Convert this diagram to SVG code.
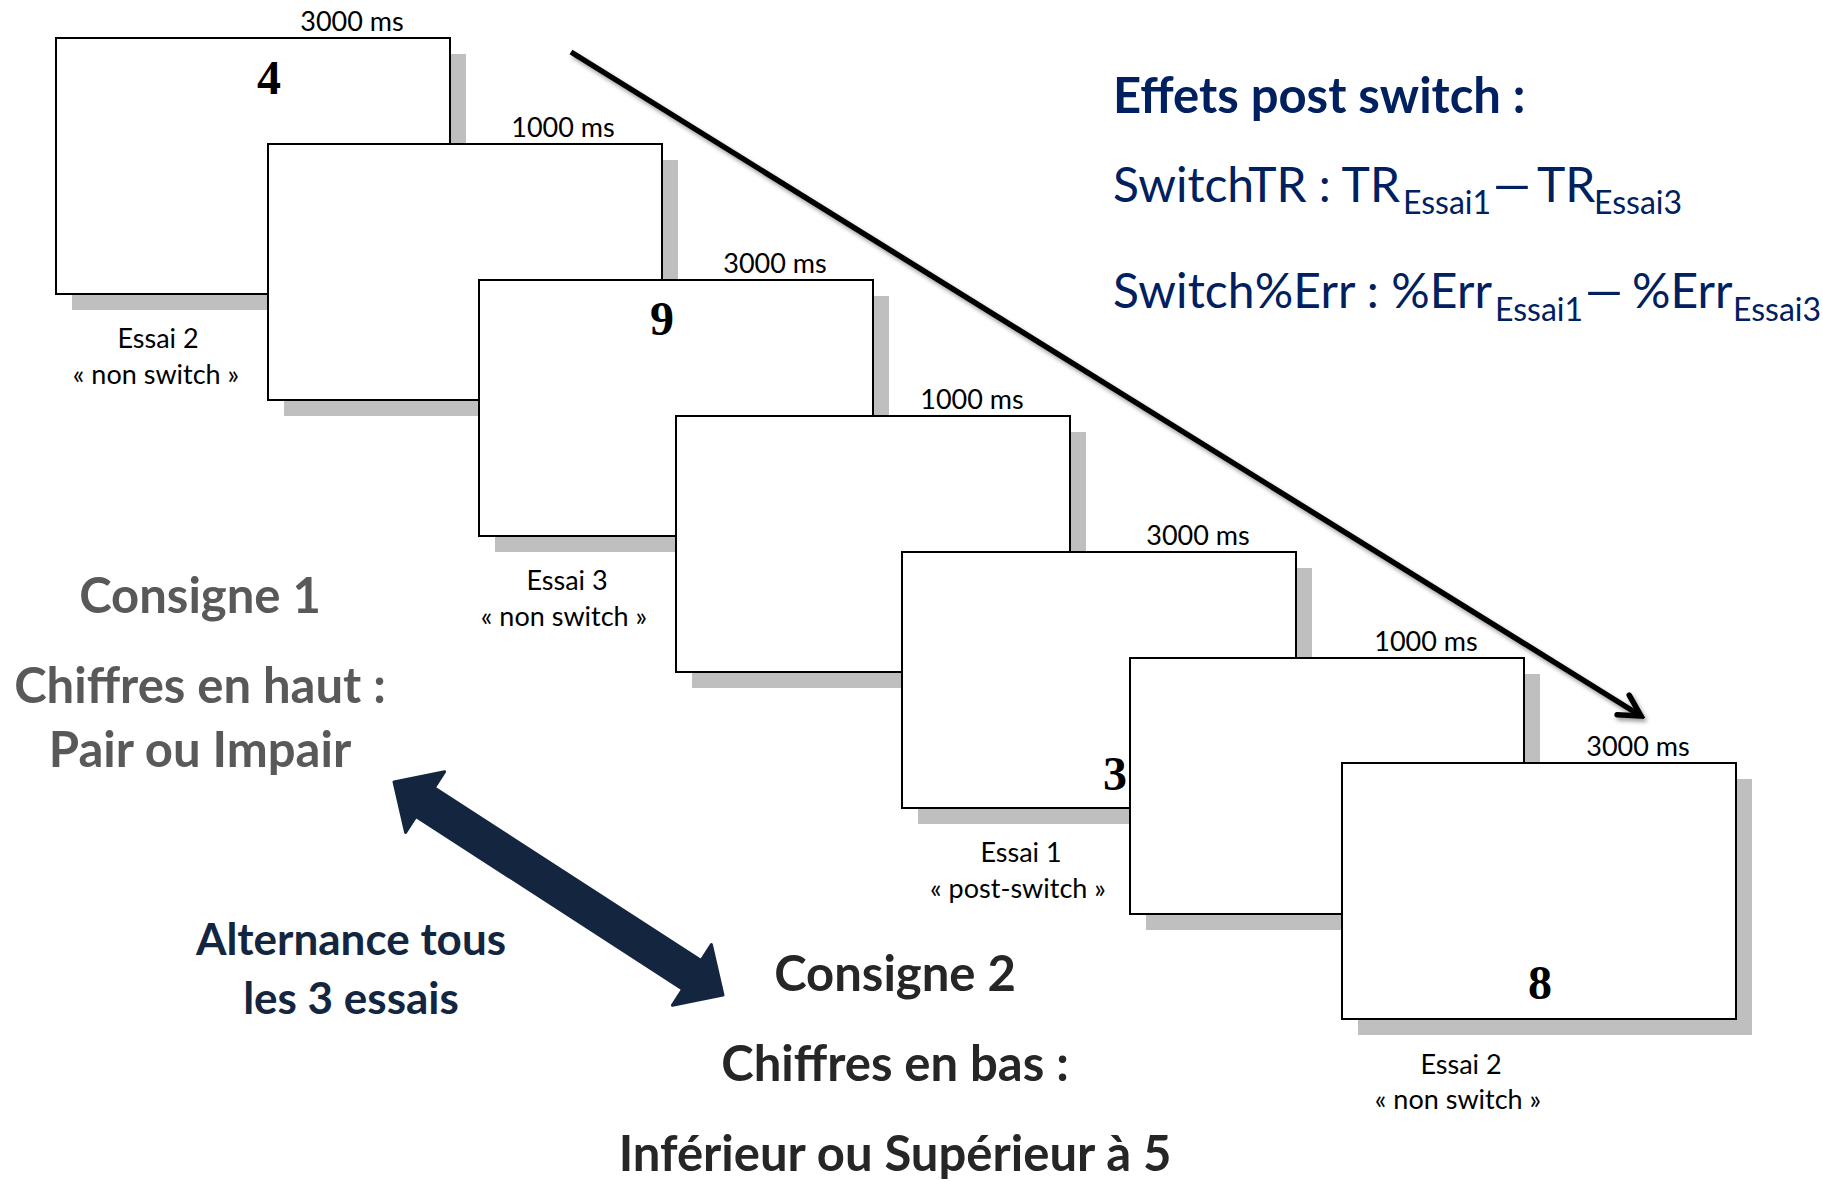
<svg xmlns="http://www.w3.org/2000/svg" width="1823" height="1182" viewBox="0 0 1823 1182">
  <style>
    .screen { fill: #ffffff; stroke: #000000; stroke-width: 2; }
    .shade { fill: #bfbfbf; }
    .dur { font-family: Lato, "Liberation Sans", sans-serif; font-size: 27px; fill: #000000; text-anchor: middle; }
    .essai { font-family: Lato, "Liberation Sans", sans-serif; font-size: 27px; fill: #000000; text-anchor: middle; }
    .digit { font-family: "Liberation Serif", "Times New Roman", serif; font-weight: bold; font-size: 48px; fill: #000000; text-anchor: middle; }
    .formula { font-family: Lato, "Liberation Sans", sans-serif; font-size: 48px; fill: #002060; }
    .sub { font-size: 32px; }
    .title { font-family: Lato, "Liberation Sans", sans-serif; font-weight: bold; font-size: 49px; fill: #002060; }
    .rule1 { font-family: Lato, "Liberation Sans", sans-serif; font-weight: bold; font-size: 49px; fill: #595959; text-anchor: middle; }
    .rule2 { font-family: Lato, "Liberation Sans", sans-serif; font-weight: bold; font-size: 49px; fill: #262626; text-anchor: middle; }
    .alt { font-family: Lato, "Liberation Sans", sans-serif; font-weight: bold; font-size: 44px; fill: #14263f; text-anchor: middle; }
    .timeline { fill: none; stroke: #000000; stroke-width: 5.5; }
  </style>
  <defs>
    <filter id="softShadow" x="-10%" y="-10%" width="120%" height="120%">
      <feDropShadow dx="2" dy="3" stdDeviation="2" flood-color="#000000" flood-opacity="0.4"/>
    </filter>
    <marker id="openHead" viewBox="-28 -16 32 32" refX="0" refY="0" markerWidth="32" markerHeight="32" markerUnits="userSpaceOnUse" orient="auto">
      <path d="M-21,-11.5 L0,0 L-21,11.5" fill="none" stroke="#000000" stroke-width="5.5" stroke-linejoin="miter" stroke-linecap="round"/>
    </marker>
  </defs>

  <rect width="1823" height="1182" fill="#ffffff"/>

  <!-- trial screens, back to front -->
  <g id="screen1">
    <rect class="shade" x="72" y="54" width="394" height="256"/>
    <rect class="screen" x="56" y="38" width="394" height="256"/>
    <text class="dur" x="352" y="31">3000 ms</text>
    <text class="digit" x="269" y="94">4</text>
    <text class="essai" x="158" y="348">Essai 2</text>
    <text class="essai" x="156" y="384">« non switch »</text>
  </g>
  <g id="screen2">
    <rect class="shade" x="284" y="160" width="394" height="256"/>
    <rect class="screen" x="268" y="144" width="394" height="256"/>
    <text class="dur" x="563" y="137">1000 ms</text>
  </g>
  <g id="screen3">
    <rect class="shade" x="495" y="296" width="394" height="256"/>
    <rect class="screen" x="479" y="280" width="394" height="256"/>
    <text class="dur" x="775" y="273">3000 ms</text>
    <text class="digit" x="662" y="335">9</text>
    <text class="essai" x="567" y="590">Essai 3</text>
    <text class="essai" x="564" y="626">« non switch »</text>
  </g>
  <g id="screen4">
    <rect class="shade" x="692" y="432" width="394" height="256"/>
    <rect class="screen" x="676" y="416" width="394" height="256"/>
    <text class="dur" x="972" y="409">1000 ms</text>
  </g>
  <g id="screen5">
    <rect class="shade" x="918" y="568" width="394" height="256"/>
    <rect class="screen" x="902" y="552" width="394" height="256"/>
    <text class="dur" x="1198" y="545">3000 ms</text>
    <text class="digit" x="1115" y="790">3</text>
    <text class="essai" x="1021" y="862">Essai 1</text>
    <text class="essai" x="1018" y="898">« post-switch »</text>
  </g>
  <g id="screen6">
    <rect class="shade" x="1146" y="674" width="394" height="256"/>
    <rect class="screen" x="1130" y="658" width="394" height="256"/>
    <text class="dur" x="1426" y="651">1000 ms</text>
  </g>
  <g id="screen7">
    <rect class="shade" x="1358" y="779" width="394" height="256"/>
    <rect class="screen" x="1342" y="763" width="394" height="256"/>
    <text class="dur" x="1638" y="756">3000 ms</text>
    <text class="digit" x="1540" y="999">8</text>
    <text class="essai" x="1461" y="1074">Essai 2</text>
    <text class="essai" x="1458" y="1109">« non switch »</text>
  </g>

  <!-- time axis and rule alternation arrow -->
  <g id="connectors">
    <line class="timeline" x1="571" y1="52" x2="1641" y2="716" marker-end="url(#openHead)" filter="url(#softShadow)"/>
    <polygon id="alternation" fill="#14263f" stroke="#14263f" stroke-width="3" stroke-linejoin="round"
      points="394,782 444.6,771.8 434.3,787.8 701.1,960.6 711.4,944.6 723,995 672.4,1005.2 682.7,989.2 415.9,816.4 405.6,832.4"/>
  </g>

  <!-- post-switch measures -->
  <g id="effects">
    <text class="title" x="1113" y="113">Effets post switch :</text>
    <text class="formula" x="1113" y="202" textLength="287" lengthAdjust="spacing">SwitchTR : TR</text>
    <text class="formula sub" x="1403" y="214">Essai1</text>
    <text class="formula" transform="translate(1489,202) scale(1.65,1)" x="0" y="0">–</text>
    <text class="formula" x="1537" y="202">TR</text>
    <text class="formula sub" x="1594" y="214">Essai3</text>
    <text class="formula" x="1113" y="308" textLength="379" lengthAdjust="spacing">Switch%Err : %Err</text>
    <text class="formula sub" x="1495" y="321">Essai1</text>
    <text class="formula" transform="translate(1581,308) scale(1.65,1)" x="0" y="0">–</text>
    <text class="formula" x="1632" y="308">%Err</text>
    <text class="formula sub" x="1733" y="321">Essai3</text>
  </g>

  <!-- task rules -->
  <g id="rule1">
    <text class="rule1" x="200" y="613">Consigne 1</text>
    <text class="rule1" x="200" y="703">Chiffres en haut :</text>
    <text class="rule1" x="200" y="767">Pair ou Impair</text>
  </g>
  <g id="alternation-label">
    <text class="alt" x="351" y="955">Alternance tous</text>
    <text class="alt" x="351" y="1014">les 3 essais</text>
  </g>
  <g id="rule2">
    <text class="rule2" x="895" y="991">Consigne 2</text>
    <text class="rule2" x="895" y="1081">Chiffres en bas :</text>
    <text class="rule2" x="895" y="1171" font-size="50">Inférieur ou Supérieur à 5</text>
  </g>
</svg>
